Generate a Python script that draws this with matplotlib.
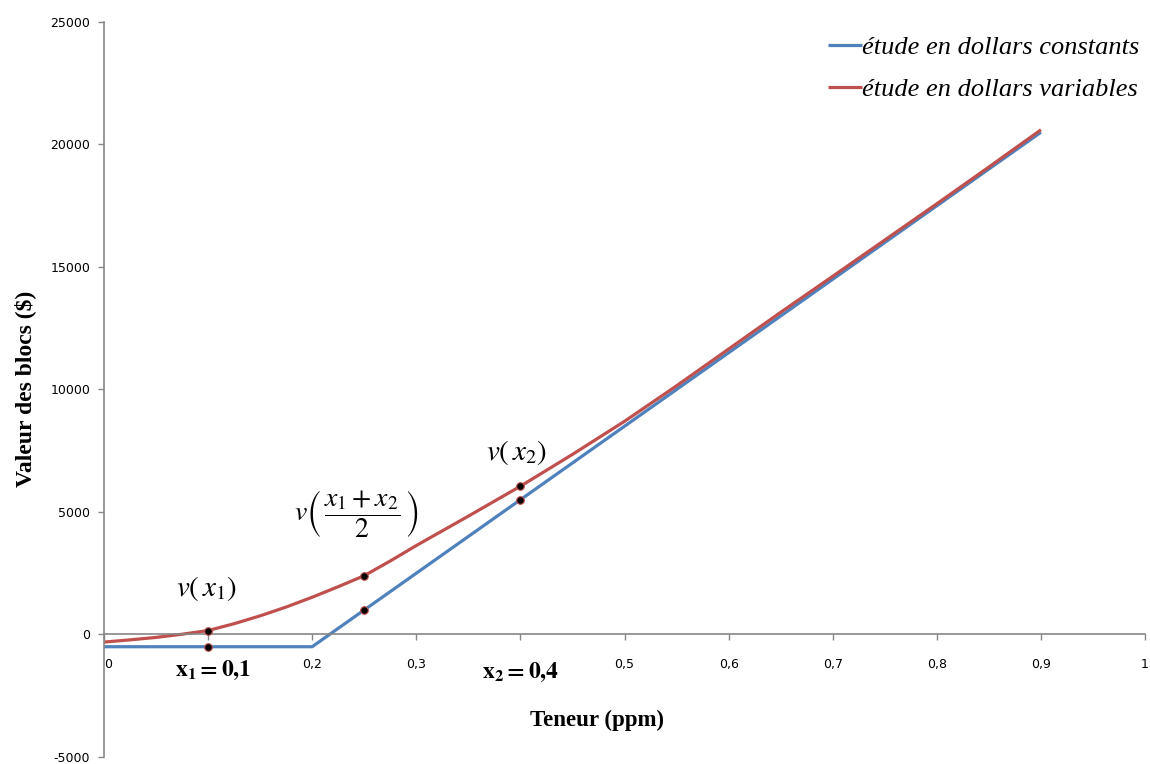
import matplotlib.pyplot as plt

# teneur (ppm)
teneur = [0, 0.025, 0.05, 0.075, 0.1, 0.125, 0.15, 0.175, 0.2, 0.225, 0.25,
          0.275, 0.3, 0.325, 0.35, 0.375, 0.4, 0.425, 0.45, 0.5,
          0.55, 0.6, 0.65, 0.7, 0.75, 0.8, 0.85, 0.9]
# valeur des blocs ($)
constants = [-500, -500, -500, -500, -500, -500, -500, -500, -500, 250, 1000,
             1750, 2500, 3250, 4000, 4750, 5500, 6250, 7000, 8500,
             10000, 11500, 13000, 14500, 16000, 17500, 19000, 20500]
variables = [-310, -220, -120, 10, 160, 440, 760, 1120, 1520, 1950, 2400,
             3000, 3630, 4230, 4830, 5440, 6050, 6700, 7350, 8700,
             10150, 11650, 13150, 14620, 16100, 17580, 19080, 20600]

pts_x = [0.1, 0.1, 0.25, 0.25, 0.4, 0.4]
pts_y = [-500, 160, 1000, 2400, 5500, 6050]

blue = '#4F81BD'
red = '#C0504D'

plt.rcParams['mathtext.fontset'] = 'stix'
plt.rcParams['axes.unicode_minus'] = False

fig = plt.figure(figsize=(11.5, 7.64), dpi=100)
ax = fig.add_axes([0.0904, 0.0092, 0.9053, 0.962])

ax.plot(teneur, constants, color=blue, lw=2.3, label='étude en dollars constants',
        solid_capstyle='butt')
ax.plot(teneur, variables, color=red, lw=2.3, label='étude en dollars variables',
        solid_capstyle='butt')
ax.scatter(pts_x, pts_y, s=30, color='black', edgecolors=red, linewidths=0.8, zorder=5)

ax.set_xlim(0, 1)
ax.set_ylim(-5000, 25000)
ax.set_xticks([0, 0.1, 0.2, 0.3, 0.4, 0.5, 0.6, 0.7, 0.8, 0.9, 1])
ax.set_xticklabels(['0', '', '0,2', '0,3', '', '0,5', '0,6', '0,7', '0,8', '0,9', '1'])
ax.set_yticks(range(-5000, 25001, 5000))

for s in ['top', 'right']:
    ax.spines[s].set_visible(False)
ax.spines['bottom'].set_position(('data', 0))
for s in ['left', 'bottom']:
    ax.spines[s].set_color('#868686')
    ax.spines[s].set_linewidth(1.2)
ax.tick_params(axis='both', colors='#868686', labelcolor='black', labelsize=9,
               direction='out', length=4, width=1)
ax.tick_params(axis='x', pad=13)
ax.tick_params(axis='y', pad=6)
ax.get_xticklabels()[0].set_horizontalalignment('left')

# annotations
ax.text(0.098, 1880, r'$v\left(\,x_1\right)$', fontsize=21, ha='center', va='center')
ax.text(0.243, 4900, r'$v\left(\,\dfrac{x_1+x_2}{2}\,\right)$', fontsize=20,
        ha='center', va='center')
ax.text(0.396, 7430, r'$v\left(\,x_2\right)$', fontsize=21, ha='center', va='center')
ax.text(0.105, -1450, r'$\mathbf{x_1 = 0{,}1}$', fontsize=17, ha='center', va='center')
ax.text(0.4, -1530, r'$\mathbf{x_2 = 0{,}4}$', fontsize=17, ha='center', va='center')

fig.text(597 / 1150, 1 - 720 / 764, 'Teneur (ppm)', family='Liberation Serif',
         weight='bold', fontsize=16.5, ha='center', va='center')
fig.text(25 / 1150, 1 - 389 / 764, 'Valeur des blocs ($)', family='Liberation Serif',
         weight='bold', fontsize=17, ha='center', va='center', rotation=90)

leg = ax.legend(loc='upper right', bbox_to_anchor=(1.005, 0.996), frameon=False,
                prop={'family': 'Liberation Serif', 'style': 'italic', 'size': 19},
                handlelength=1.3, handletextpad=0.0, labelspacing=0.7,
                borderaxespad=0.0)

fig.savefig('out.png', dpi=100)
